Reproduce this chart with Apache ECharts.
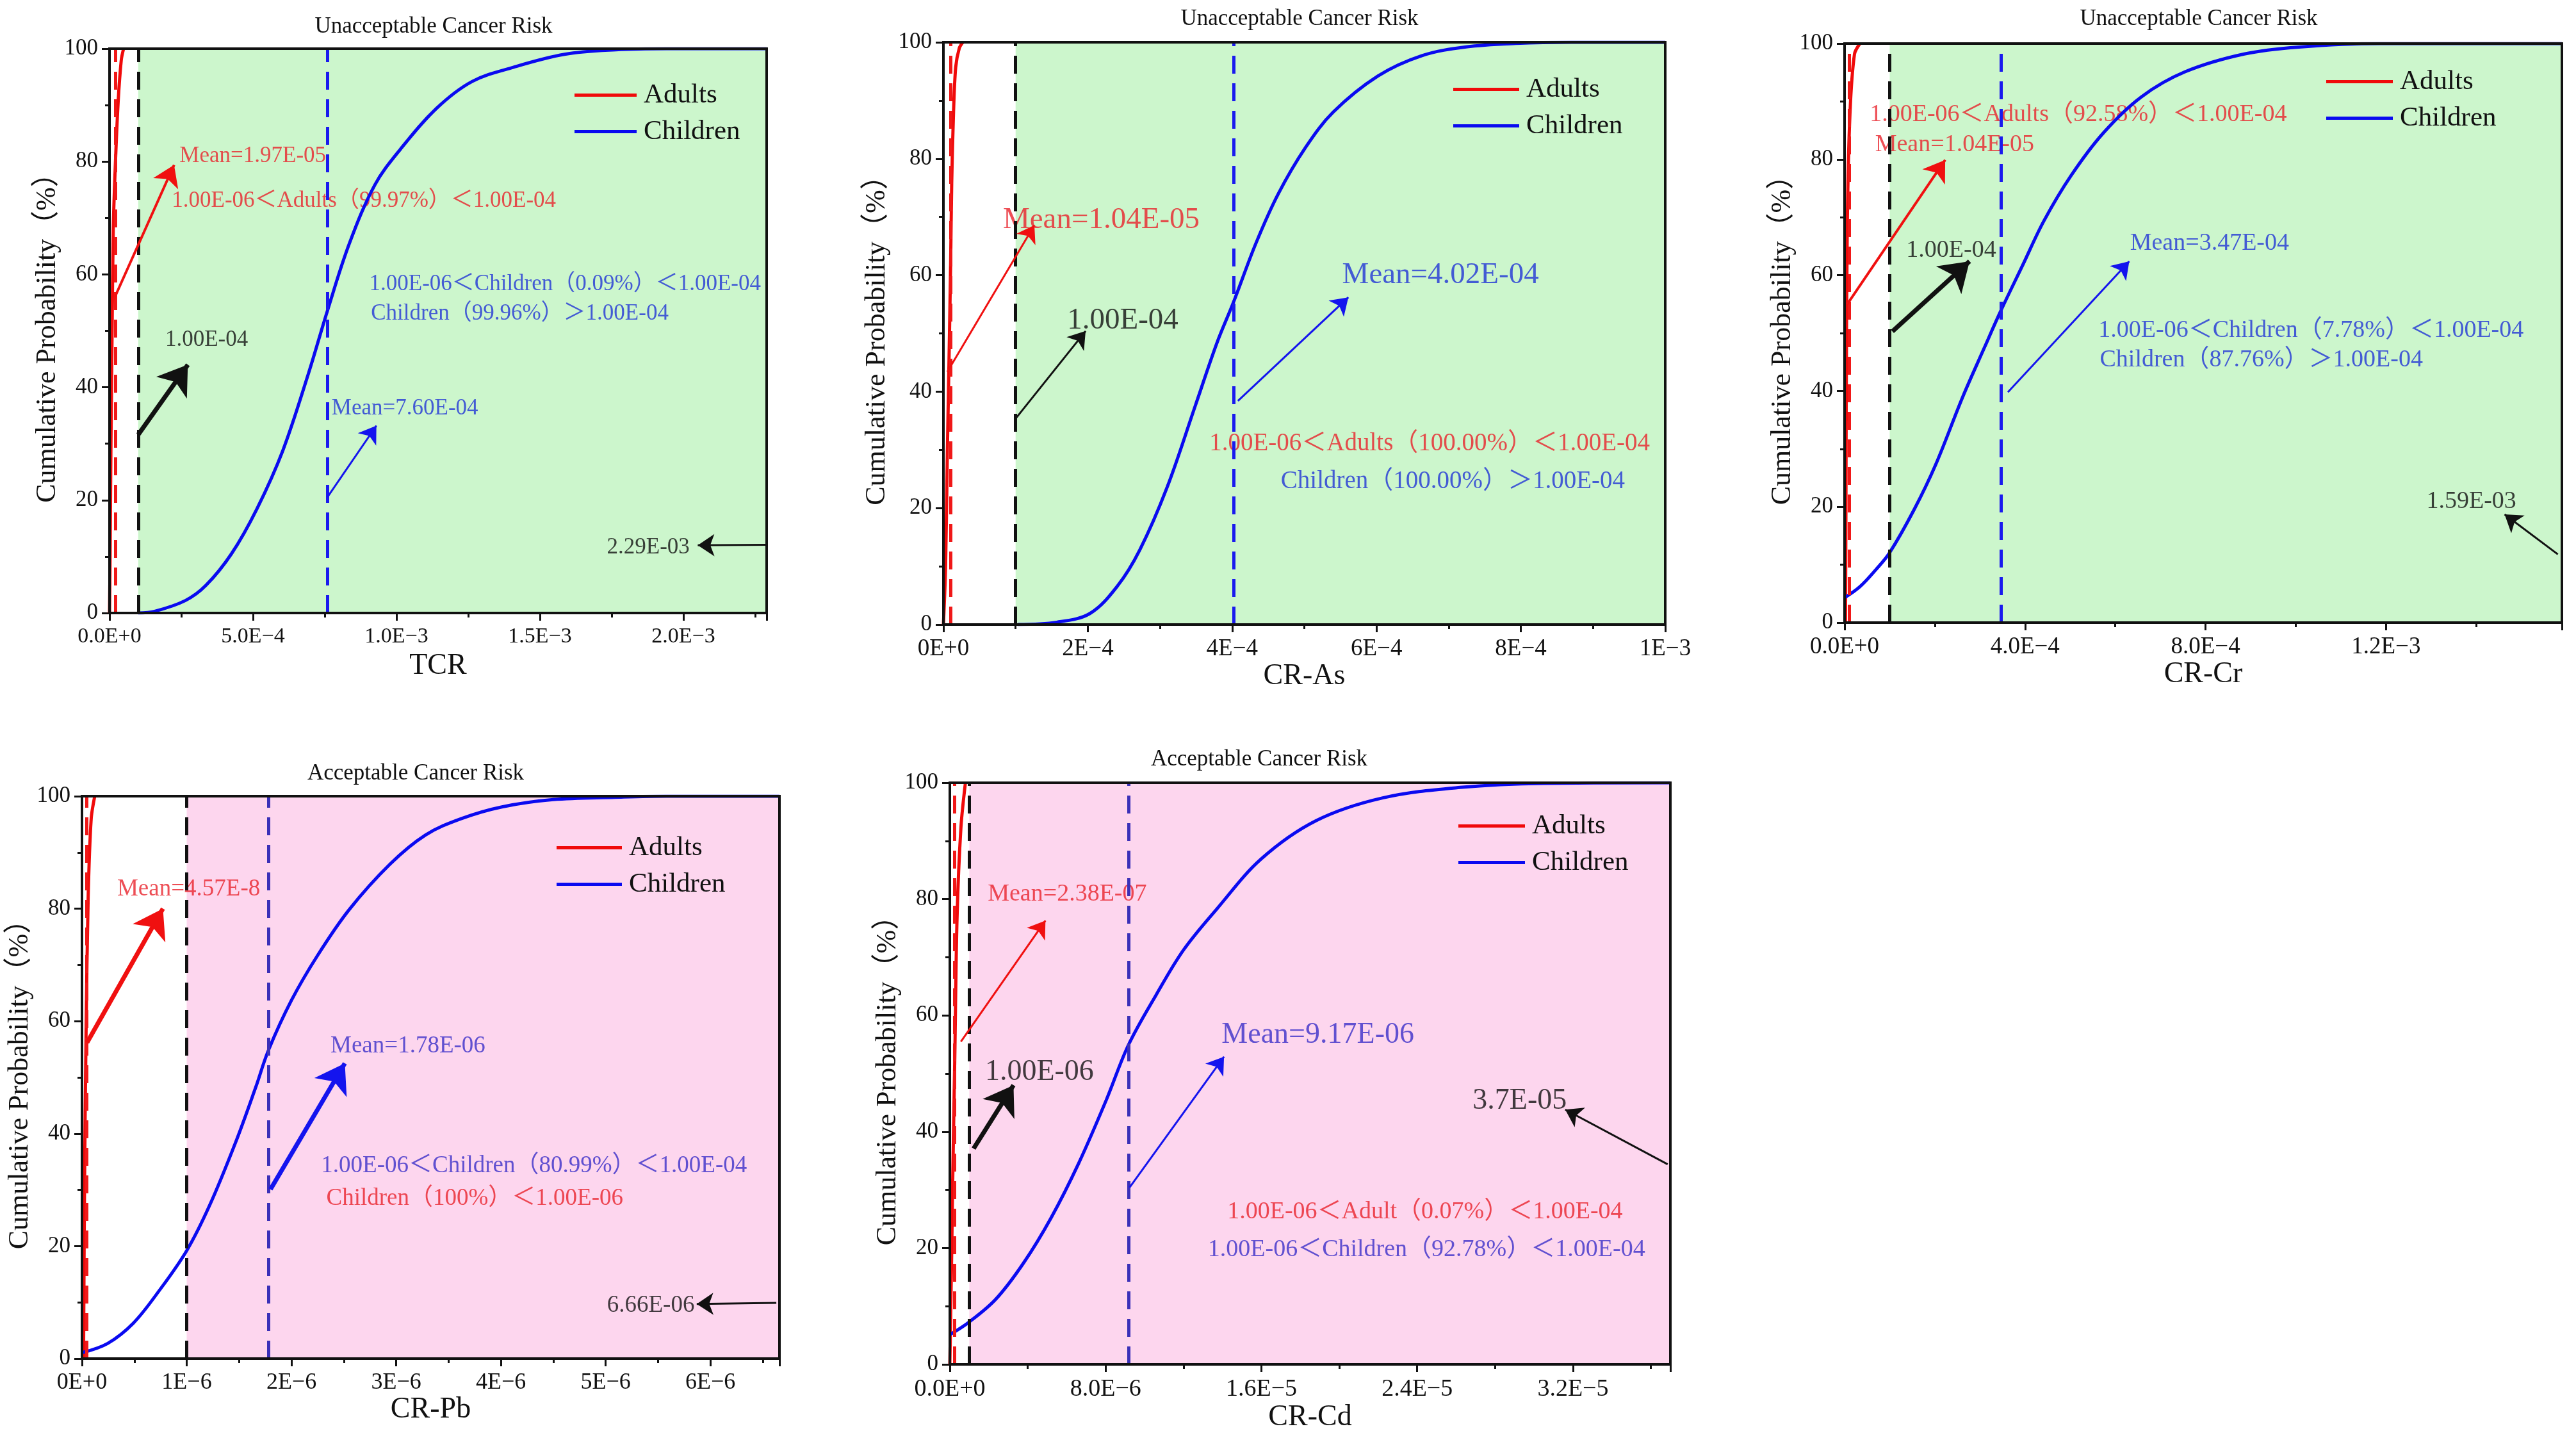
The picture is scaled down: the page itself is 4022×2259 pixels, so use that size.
<!DOCTYPE html>
<html>
<head>
<meta charset="utf-8">
<title>Cancer risk cumulative probability</title>
<script src="https://cdn.jsdelivr.net/npm/echarts@6/dist/echarts.min.js"></script>
<style>
  html, body { margin: 0; padding: 0; background: #fff; }
  #chart { width: 4022px; height: 2259px; }
</style>
</head>
<body>
<div id="chart"></div>
<script>
// cumulative curves: [risk value, cumulative %]
const tcrAdults = [[0, 0], [2e-6, 10], [5e-6, 30], [9e-6, 50], [1.3e-5, 68], [2e-5, 79], [3e-5, 90.5], [4.1e-5, 98], [4.9e-5, 100]]
const tcrChildren = [[1e-4, 0], [1.57e-4, 0.3], [2.64e-4, 2.2], [3.36e-4, 4.9], [4.25e-4, 10.5], [5.14e-4, 18.5], [6.04e-4, 28.8],
    [6.93e-4, 42.4], [7.59e-4, 53.5], [8.36e-4, 65.5], [9.25e-4, 75.9], [1.014e-3, 82.2], [1.139e-3, 89.4], [1.264e-3, 94.2],
    [1.407e-3, 96.7], [1.586e-3, 99], [1.764e-3, 99.8], [1.94e-3, 100], [2.29e-3, 100]]
const asAdults = [[0, 0], [3e-6, 10], [5.5e-6, 30], [7.7e-6, 45], [1e-5, 62], [1.15e-5, 76], [1.4e-5, 88], [1.7e-5, 95.7], [2.2e-5, 99], [2.7e-5, 100]]
const asChildren = [[1.03e-4, 0], [1.57e-4, 0.4], [2.03e-4, 1.9], [2.41e-4, 6.6], [2.72e-4, 12.8], [3.1e-4, 23.6], [3.49e-4, 37.6],
    [3.79e-4, 48.4], [4.02e-4, 55.4], [4.33e-4, 65.5], [4.64e-4, 74], [5.02e-4, 82], [5.4e-4, 88], [6.02e-4, 94.2],
    [6.63e-4, 97.7], [7.24e-4, 99.2], [7.93e-4, 99.8], [8.7e-4, 100], [1e-3, 100]]
const crAdults = [[2e-6, 0], [3e-6, 20], [3.6e-6, 37], [6e-6, 68.6], [1.2e-5, 88], [2.2e-5, 98.2], [3.4e-5, 100]]
const crChildren = [[0, 4.3], [3.4e-5, 6.2], [7e-5, 9.2], [1e-4, 12.1], [1.54e-4, 19.5], [2.02e-4, 27.3], [2.62e-4, 39],
    [3.1e-4, 47.5], [3.46e-4, 53.8], [3.94e-4, 61.6], [4.42e-4, 69.4], [5.02e-4, 77.2], [5.74e-4, 84.6], [6.58e-4, 90.8],
    [7.54e-4, 95.1], [8.86e-4, 98.2], [1.007e-3, 99.4], [1.187e-3, 100], [1.59e-3, 100]]
const pbAdults = [[1.5e-8, 0], [2.4e-8, 30], [3.9e-8, 58], [5.9e-8, 82], [8.8e-8, 96], [1.22e-7, 100]]
const pbChildren = [[0, 1.05], [2.45e-7, 2.7], [4.9e-7, 6.3], [7.34e-7, 12], [1e-6, 19.2], [1.22e-6, 27.3], [1.47e-6, 38.6],
    [1.66e-6, 48.3], [1.78e-6, 54.8], [2e-6, 63.7], [2.25e-6, 71.7], [2.55e-6, 79.8], [2.94e-6, 87.9], [3.28e-6, 93.1],
    [3.62e-6, 96], [4.01e-6, 98.1], [4.5e-6, 99.4], [5.09e-6, 99.8], [5.58e-6, 100], [6.66e-6, 100]]
const cdAdults = [[0, 0], [1e-7, 20], [1.4e-7, 30], [2.56e-7, 53], [3.7e-7, 76.7], [5.7e-7, 92.3], [8e-7, 100]]
const cdChildren = [[0, 5.1], [1e-6, 7.3], [2.36e-6, 11.2], [3.78e-6, 17.4], [5.2e-6, 25.2], [6.62e-6, 34.6], [8.04e-6, 45.5],
    [9.17e-6, 54.9], [1.059e-5, 63.5], [1.201e-5, 71.3], [1.371e-5, 78.3], [1.599e-5, 86.9], [1.882e-5, 93.5],
    [2.223e-5, 97.4], [2.62e-5, 99.2], [3.05e-5, 99.9], [3.7e-5, 100]]

// means [adults, children] of each panel
const tcrMeans = [1.97e-5, 7.60e-4]
const asMeans = [1.04e-5, 4.02e-4]
const crMeans = [1.04e-5, 3.47e-4]
const pbMeans = [4.57e-8, 1.78e-6]
const cdMeans = [2.38e-7, 9.17e-6]

// x axis tick labels
const tcrTicks = ['0.0E+0', '5.0E−4', '1.0E−3', '1.5E−3', '2.0E−3']
const asTicks = ['0E+0', '2E−4', '4E−4', '6E−4', '8E−4', '1E−3']
const crTicks = ['0.0E+0', '4.0E−4', '8.0E−4', '1.2E−3']
const pbTicks = ['0E+0', '1E−6', '2E−6', '3E−6', '4E−6', '5E−6', '6E−6']
const cdTicks = ['0.0E+0', '8.0E−6', '1.6E−5', '2.4E−5', '3.2E−5']

// annotation text: [text, x, y, tone, scale]
const tcrNotes = [
    ['Mean=1.97E-05', 2.43e-4, 81, 'red'],
    ['1.00E-06＜Adults（99.97%）＜1.00E-04', 2.16e-4, 73, 'red'],
    ['1.00E-06＜Children（0.09%）＜1.00E-04', 9.04e-4, 58.2, 'blue'],
    ['Children（99.96%）＞1.00E-04', 9.1e-4, 53, 'blue'],
    ['1.00E-04', 1.93e-4, 48.4, 'ink'],
    ['Mean=7.60E-04', 7.73e-4, 36.2, 'blue'],
    ['2.29E-03', 1.732e-3, 11.6, 'ink']
]
const asNotes = [
    ['Mean=1.04E-05', 8.2e-5, 69.5, 'red', 1.22],
    ['1.00E-04', 1.71e-4, 52.2, 'ink', 1.22],
    ['Mean=4.02E-04', 5.52e-4, 60, 'blue', 1.22],
    ['1.00E-06＜Adults（100.00%）＜1.00E-04', 3.68e-4, 31, 'red'],
    ['Children（100.00%）＞1.00E-04', 4.67e-4, 24.6, 'blue']
]
const crNotes = [
    ['1.00E-06＜Adults（92.58%）＜1.00E-04', 5.5e-5, 87.7, 'red'],
    ['Mean=1.04E-05', 6.7e-5, 82.5, 'red'],
    ['1.00E-04', 1.36e-4, 64.3, 'ink'],
    ['Mean=3.47E-04', 6.32e-4, 65.5, 'blue'],
    ['1.00E-06＜Children（7.78%）＜1.00E-04', 5.62e-4, 50.4, 'blue'],
    ['Children（87.76%）＞1.00E-04', 5.65e-4, 45.4, 'blue'],
    ['1.59E-03', 1.289e-3, 20.9, 'ink']
]
const pbNotes = [
    ['Mean=4.57E-8', 3.33e-7, 83.4, 'red'],
    ['Mean=1.78E-06', 2.37e-6, 55.6, 'indigo'],
    ['1.00E-06＜Children（80.99%）＜1.00E-04', 2.28e-6, 34.2, 'indigo'],
    ['Children（100%）＜1.00E-06', 2.33e-6, 28.4, 'red'],
    ['6.66E-06', 5.01e-6, 9.4, 'ink']
]
const cdNotes = [
    ['Mean=2.38E-07', 1.93e-6, 80.8, 'red'],
    ['1.00E-06', 1.79e-6, 50.2, 'ink', 1.23],
    ['Mean=9.17E-06', 1.394e-5, 56.6, 'indigo', 1.23],
    ['3.7E-05', 2.683e-5, 45.3, 'ink', 1.23],
    ['1.00E-06＜Adult（0.07%）＜1.00E-04', 1.423e-5, 26.2, 'red'],
    ['1.00E-06＜Children（92.78%）＜1.00E-04', 1.323e-5, 19.7, 'indigo']
]

// arrows: [x1, y1, x2, y2, tone, weight]
const tcrArrows = [
    [1.43e-5, 55.5, 2.25e-4, 79.4, 'red', 'mid'],
    [1e-4, 31.6, 2.73e-4, 44, 'ink', 'thick'],
    [7.59e-4, 20.5, 9.3e-4, 33.2, 'blue', 'thin'],
    [2.288e-3, 12.1, 2.05e-3, 12, 'ink', 'thin']
]
const asArrows = [
    [5.4e-6, 43.4, 1.26e-4, 68.6, 'red', 'thin'],
    [9.96e-5, 35.3, 1.97e-4, 50.4, 'ink', 'thin'],
    [4.08e-4, 38.4, 5.61e-4, 56.2, 'blue', 'thin']
]
const crArrows = [
    [6e-6, 55, 2.23e-4, 79.9, 'red', 'mid'],
    [1.06e-4, 50.3, 2.77e-4, 62.4, 'ink', 'thick'],
    [3.62e-4, 39.8, 6.31e-4, 62.4, 'blue', 'thin'],
    [1.581e-3, 11.8, 1.463e-3, 18.7, 'ink', 'thin']
]
const pbArrows = [
    [4.9e-8, 56.2, 7.73e-7, 80, 'red', 'thick'],
    [1.8e-6, 30.1, 2.51e-6, 52.5, 'blue', 'thick'],
    [6.63e-6, 9.9, 5.87e-6, 9.7, 'ink', 'thin']
]
const cdArrows = [
    [5.7e-7, 55.5, 4.91e-6, 76.3, 'red', 'thin'],
    [1.22e-6, 37.1, 3.27e-6, 48, 'ink', 'thick'],
    [9.23e-6, 30.4, 1.408e-5, 52.9, 'blue', 'thin'],
    [3.686e-5, 34.4, 3.16e-5, 43.8, 'ink', 'thin']
]

const FONT = "'Liberation Serif', 'Times New Roman', 'Noto Sans CJK SC', serif"
const TONE = { red: '#e8222a', blue: '#2034d6', indigo: '#3a2ec8', ink: '#111111' }
const ARROW_TONE = { red: '#f01010', blue: '#1414ee', ink: '#111111' }
const WEIGHT = { thin: [3, 26], mid: [4, 32], thick: [7, 44] }
const GREEN = '#ccf6cc'
const PINK = '#fdd6ee'

const panels = [
    { rect: { left: 171, top: 76, width: 1026, height: 881 }, title: 'Unacceptable Cancer Risk', titleX: 677, titleY: 24,
      xName: 'TCR', xMax: 2.29e-3, step: 5e-4, ticks: tcrTicks, adults: tcrAdults, children: tcrChildren, means: tcrMeans,
      limit: 1e-4, shade: GREEN, notes: tcrNotes, arrows: tcrArrows, legend: [897, 127, 97], tickFont: 34, noteFont: 35,
      yGap: 70, xGap: 60, meanColor: '#1a1aee' },
    { rect: { left: 1473, top: 66, width: 1127, height: 909 }, title: 'Unacceptable Cancer Risk', titleX: 2029, titleY: 12,
      xName: 'CR-As', xMax: 1e-3, step: 2e-4, ticks: asTicks, adults: asAdults, children: asChildren, means: asMeans,
      limit: 1e-4, shade: GREEN, notes: asNotes, arrows: asArrows, legend: [2269, 118, 103], tickFont: 37, noteFont: 38.5,
      yGap: 82, xGap: 58, meanColor: '#1a1aee' },
    { rect: { left: 2880, top: 68, width: 1120, height: 904 }, title: 'Unacceptable Cancer Risk', titleX: 3433, titleY: 12,
      xName: 'CR-Cr', xMax: 1.59e-3, step: 4e-4, ticks: crTicks, adults: crAdults, children: crChildren, means: crMeans,
      limit: 1e-4, shade: GREEN, notes: crNotes, arrows: crArrows, legend: [3632, 106, 104], tickFont: 37, noteFont: 38,
      yGap: 74, xGap: 58, meanColor: '#1a1aee' },
    { rect: { left: 128, top: 1243, width: 1089, height: 878 }, title: 'Acceptable Cancer Risk', titleX: 649, titleY: 1190,
      xName: 'CR-Pb', xMax: 6.66e-6, step: 1e-6, ticks: pbTicks, adults: pbAdults, children: pbChildren, means: pbMeans,
      limit: 1e-6, shade: PINK, notes: pbNotes, arrows: pbArrows, legend: [869, 1302, 102], tickFont: 36, noteFont: 37,
      yGap: 68, xGap: 56, meanColor: '#3a30b8' },
    { rect: { left: 1483, top: 1222, width: 1125, height: 908 }, title: 'Acceptable Cancer Risk', titleX: 1966, titleY: 1168,
      xName: 'CR-Cd', xMax: 3.7e-5, step: 8e-6, ticks: cdTicks, adults: cdAdults, children: cdChildren, means: cdMeans,
      limit: 1e-6, shade: PINK, notes: cdNotes, arrows: cdArrows, legend: [2277, 1268, 104], tickFont: 38, noteFont: 37.5,
      yGap: 64, xGap: 60, meanColor: '#3a30b8' }
]

function tickText(v, labels, step) {
    const k = Math.round(v / step)
    if (Math.abs(v - k * step) > step * 1e-6) return ''
    return labels[k] !== undefined ? labels[k] : ''
}

const axisBits = {
    axisLine: { show: true, onZero: false, lineStyle: { color: '#111', width: 4 } },
    axisTick: { show: true, length: 12, lineStyle: { color: '#111', width: 3 } },
    minorTick: { show: true, splitNumber: 2, length: 7, lineStyle: { color: '#111', width: 3 } },
    splitLine: { show: false }
}

// vertical dashed marker from bottom to top of the plot
function dashedAt(x, color) {
    const style = { color: color, type: [28, 15], width: 5 }
    return [{ coord: [x, 0], symbol: 'none', lineStyle: style }, { coord: [x, 100], symbol: 'none' }]
}

const series = []
panels.forEach((p, i) => {
    series.push({
        name: 'Adults', type: 'line', xAxisIndex: i, yAxisIndex: i, data: p.adults,
        symbol: 'none', smooth: 0.3, z: 4,
        lineStyle: { color: '#f00a0a', width: 5 }, itemStyle: { color: '#f00a0a' }
    })
    series.push({
        name: 'Children', type: 'line', xAxisIndex: i, yAxisIndex: i, data: p.children,
        symbol: 'none', smooth: 0.35, z: 4,
        lineStyle: { color: '#0a0af0', width: 5 }, itemStyle: { color: '#0a0af0' }
    })
    const lines = [
        dashedAt(p.limit, '#111'),
        dashedAt(p.means[0], '#f01818'),
        dashedAt(p.means[1], p.meanColor)
    ]
    p.arrows.forEach(a => {
        const w = WEIGHT[a[5]]
        lines.push([
            { coord: [a[0], a[1]], symbol: 'none', lineStyle: { color: ARROW_TONE[a[4]], width: w[0], type: 'solid' } },
            { coord: [a[2], a[3]], symbol: 'arrow', symbolSize: w[1] }
        ])
    })
    series.push({
        name: 'notes' + i, type: 'scatter', xAxisIndex: i, yAxisIndex: i, z: 2, silent: true,
        symbolSize: 1, itemStyle: { color: 'transparent' },
        data: p.notes.map(n => ({
            value: [n[1], n[2]],
            label: {
                show: true, position: 'right', distance: 0, formatter: n[0],
                color: TONE[n[3]], fontFamily: FONT, fontSize: Math.round(p.noteFont * (n[4] || 1))
            }
        })),
        markArea: { silent: true, itemStyle: { color: p.shade }, data: [[{ xAxis: p.limit }, { xAxis: p.xMax }]] },
        markLine: { silent: true, symbol: 'none', label: { show: false }, animation: false, data: lines }
    })
})

const option = {
    animation: false,
    backgroundColor: '#ffffff',
    title: panels.map(p => ({
        text: p.title, left: p.titleX, top: p.titleY, textAlign: 'center', padding: 0,
        textStyle: { fontFamily: FONT, fontSize: 35, fontWeight: 'normal', color: '#111' }
    })),
    legend: panels.map(p => ({
        data: ['Adults', 'Children'], left: p.legend[0], top: p.legend[1], orient: 'vertical',
        icon: 'rect', itemWidth: p.legend[2], itemHeight: 5, itemGap: 14, padding: 0,
        textStyle: { fontFamily: FONT, fontSize: 43, color: '#111', lineHeight: 43, padding: [0, 0, 0, 6] }
    })),
    grid: panels.map(p => Object.assign({}, p.rect, {
        show: true, z: 10, borderColor: '#111', borderWidth: 4, backgroundColor: 'transparent'
    })),
    xAxis: panels.map((p, i) => Object.assign({
        type: 'value', gridIndex: i, min: 0, max: p.xMax, interval: p.step,
        name: p.xName, nameLocation: 'middle', nameGap: p.xGap,
        nameTextStyle: { fontFamily: FONT, fontSize: 46, color: '#111' },
        axisLabel: {
            fontFamily: FONT, fontSize: p.tickFont, color: '#111', margin: 20,
            formatter: v => tickText(v, p.ticks, p.step)
        }
    }, axisBits)),
    yAxis: panels.map((p, i) => Object.assign({
        type: 'value', gridIndex: i, min: 0, max: 100, interval: 20,
        name: 'Cumulative Probability（%）', nameLocation: 'middle', nameRotate: 90, nameGap: p.yGap,
        nameTextStyle: { fontFamily: FONT, fontSize: 44, color: '#111' },
        axisLabel: { fontFamily: FONT, fontSize: 35, color: '#111', margin: 18 }
    }, axisBits)),
    series: series
}

const chart = echarts.init(document.getElementById('chart'))
chart.setOption(option)
</script>
</body>
</html>
